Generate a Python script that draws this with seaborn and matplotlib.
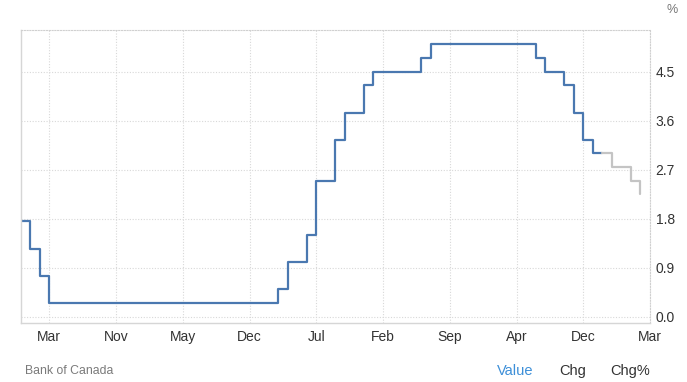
import matplotlib

matplotlib.use("Agg")
import matplotlib.pyplot as plt
import numpy as np
import pandas as pd
import seaborn as sns

# Bank of Canada policy rate, one entry per observation step
actual_rates = [1.75, 1.25, 0.75, 0.25, 0.50, 1.00, 1.50, 2.50, 3.25, 3.75,
                4.25, 4.50, 4.75, 5.00, 4.75, 4.50, 4.25, 3.75, 3.25, 3.00]
actual_periods = [1, 1, 1, 24, 1, 2, 1, 2, 1, 2, 1, 5, 1, 11, 1, 2, 1, 1, 1, 2]
forecast_rates = [3.00, 2.75, 2.50, 2.25]
forecast_periods = [1, 2, 1, 1]

tick_index = [3, 10, 17, 24, 31, 38, 45, 52, 59, 66]
tick_labels = ["Mar", "Nov", "May", "Dec", "Jul", "Feb", "Sep", "Apr", "Dec", "Mar"]
y_ticks = [0.0, 0.9, 1.8, 2.7, 3.6, 4.5]

actual = np.repeat(actual_rates, actual_periods)
forecast = np.repeat(forecast_rates, forecast_periods)
start = len(actual) - 1
frame = pd.concat([
    pd.DataFrame({"idx": np.arange(len(actual)), "rate": actual, "kind": "actual"}),
    pd.DataFrame({"idx": np.arange(start, start + len(forecast)), "rate": forecast, "kind": "forecast"}),
])

sns.set_theme(style="white")
plt.rcParams["font.family"] = ["Liberation Sans", "DejaVu Sans"]

fig = plt.figure(figsize=(6.87, 3.82), dpi=100)
ax = fig.add_axes([20.7 / 687, 59 / 382, (650 - 20.7) / 687, (323 - 29.5) / 382])

sns.lineplot(data=frame, x="idx", y="rate", hue="kind",
             palette={"actual": "#4a78b0", "forecast": "#c4c4c4"},
             drawstyle="steps-post", linewidth=1.6, estimator=None,
             legend=False, ax=ax)

ax.set_xlim(0, 66)
ax.set_ylim(-0.116, 5.275)
ax.set_xticks(tick_index)
ax.set_xticklabels(tick_labels)
ax.set_yticks(y_ticks)
ax.set_yticklabels([f"{v:.1f}" for v in y_ticks])
ax.yaxis.tick_right()
ax.tick_params(axis="both", length=0, labelsize=10, colors="#333333")
ax.tick_params(axis="y", pad=4)
ax.tick_params(axis="x", pad=5)
ax.set_xlabel("")
ax.set_ylabel("")

ax.grid(True, linestyle=(0, (1, 1.5)), color="#d8d8d8", linewidth=0.8)
ax.set_axisbelow(True)
for side in ["top", "right"]:
    ax.spines[side].set_linestyle((0, (1, 1.5)))
    ax.spines[side].set_color("#d0d0d0")
    ax.spines[side].set_linewidth(0.8)
for side in ["left", "bottom"]:
    ax.spines[side].set_color("#d6d6d6")
    ax.spines[side].set_linewidth(1.0)

fig.text(672 / 687, 1 - 10 / 382, "%", ha="center", va="center", fontsize=9, color="#777777")
fig.text(25 / 687, 1 - 371 / 382, "Bank of Canada", ha="left", va="center", fontsize=8.8, color="#7a7a7a")
fig.text(515 / 687, 1 - 371 / 382, "Value", ha="center", va="center", fontsize=10.5, color="#3d8fd8")
fig.text(573 / 687, 1 - 371 / 382, "Chg", ha="center", va="center", fontsize=10.5, color="#333333")
fig.text(630 / 687, 1 - 371 / 382, "Chg%", ha="center", va="center", fontsize=10.5, color="#333333")

fig.savefig("out.png", dpi=100)
